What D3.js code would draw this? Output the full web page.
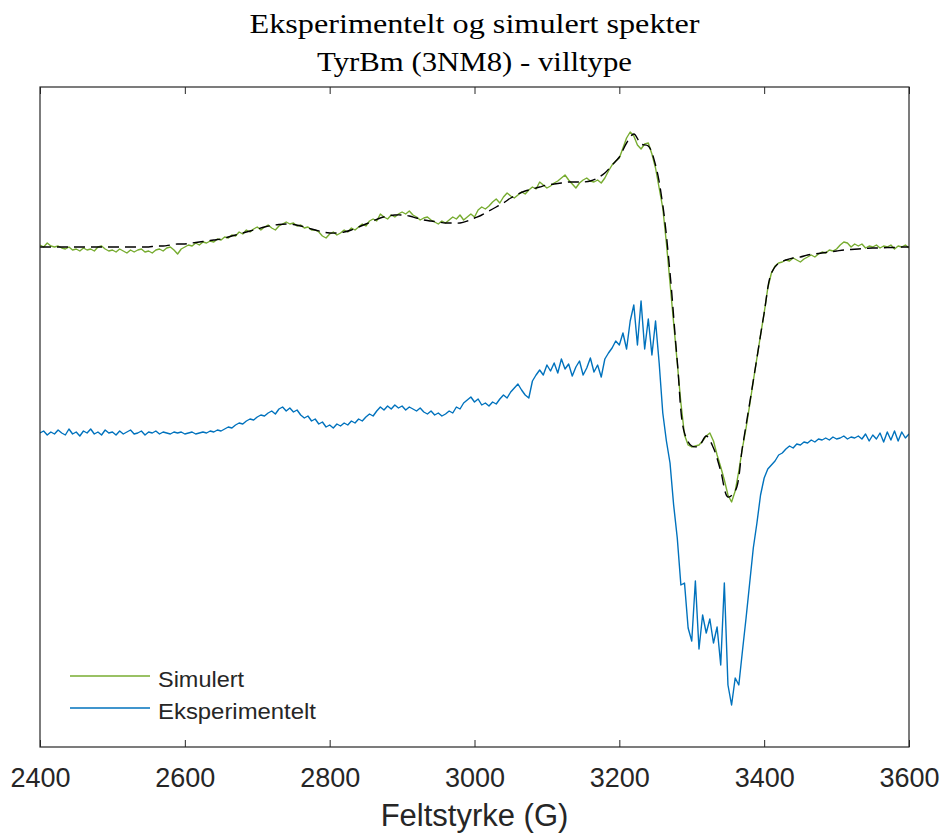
<!DOCTYPE html>
<html>
<head>
<meta charset="utf-8">
<script src="https://cdn.jsdelivr.net/npm/d3@7"></script>
<style>
  html, body { margin: 0; padding: 0; background: #fff; }
  svg { display: block; }
</style>
</head>
<body>
<script>
// Field axis (gauss), ticks and labels
const fieldStart = 2400, fieldEnd = 3600, fieldStep = 5, fitStep = 10;
const xTicks = [2400, 2600, 2800, 3000, 3200, 3400, 3600];
const xLabel = "Feltstyrke (G)";
const titleLines = ["Eksperimentelt og simulert spekter", "TyrBm (3NM8) - villtype"];
const seriesNames = ["Simulert", "Eksperimentelt"];

// Green trace, one value per 5 G (arbitrary intensity, offset upward)
const simulert = [
  188,186,190,187,186,187,185,184,186,183,184,182,185,183,184,182,186,187,184,182,
  183,181,184,182,180,183,181,183,184,181,182,180,183,184,182,185,186,183,179,184,
  186,188,187,190,188,191,190,192,191,194,193,196,195,198,197,201,199,203,201,204,
  206,203,206,208,205,203,207,209,211,209,210,207,208,205,206,203,203,201,197,195,
  199,201,198,200,203,201,205,203,206,209,207,212,214,212,219,216,214,218,216,219,
  221,219,222,218,216,213,215,216,213,211,209,212,210,213,216,214,218,213,216,219,
  216,223,226,224,227,231,234,230,236,240,237,235,238,241,239,243,246,244,251,248,
  245,247,250,252,255,258,253,249,245,250,253,255,252,251,253,250,255,262,268,272,
  275,285,295,301,297,288,284,289,290,279,265,245,225,190,150,110,70,30,-2,-12,
  -14,-13,-12,-8,-3,0,-8,-22,-34,-47,-62,-69,-58,-38,-15,5,28,52,75,98,
  120,145,160,167,170,171,173,172,175,173,171,174,176,178,176,179,181,180,183,182,
  184,188,191,190,186,189,187,189,185,187,186,188,185,187,186,188,184,187,186,188,
  185
];

// Blue trace, one value per 5 G
const eksperimentelt = [
  0,2,-2,1,-1,3,0,-2,4,-1,1,-3,2,0,4,-1,1,-2,3,0,
  1,-2,2,-1,1,3,-1,0,2,-2,1,0,2,-1,1,0,-1,1,0,1,
  -1,0,1,-1,0,1,0,2,1,3,2,4,6,5,8,10,9,12,14,13,
  16,18,17,20,22,19,24,26,22,25,21,23,18,15,17,12,14,9,11,6,
  8,5,9,7,10,8,12,10,14,12,16,19,17,22,26,23,27,24,28,25,
  27,23,26,24,22,25,21,19,22,18,20,17,19,22,20,26,24,30,33,36,
  31,34,28,30,27,31,29,34,38,35,41,45,49,43,38,35,52,58,63,58,
  68,62,70,60,74,64,69,57,66,72,58,65,75,61,68,56,74,80,85,92,
  88,100,84,112,128,88,132,84,114,78,112,70,20,-8,-30,-72,-105,-152,-150,-195,
  -208,-148,-216,-182,-200,-186,-210,-194,-232,-150,-252,-272,-245,-252,-218,-185,-150,-115,-90,-62,
  -45,-36,-32,-28,-22,-20,-16,-13,-15,-11,-12,-9,-10,-7,-9,-6,-7,-5,-7,-4,
  -6,-5,-3,-6,-4,-5,-3,-6,-1,-8,-2,-6,0,-9,1,-7,2,-8,1,-5,
  -1
];

// Smooth fitted spectrum (black dashed), one value per 10 G
const tilpasning = [
  186,186,186,186,186,186,186,186,186,186,
  186,186,186,186,186,186,187,187,188,189,
  189,190,191,192,193,194,196,198,200,202,
  204,206,207.5,208.5,209,208.5,207,205,203,201,
  200,200,201,203,206,209,212,215,217,218,
  218,217,215,213,212,211,210,210,210,212,
  215,218,222,226,230,235,239,242,244,246,
  248,249,250,251,251,251,252,255,260,268,
  276,290,299,289,287,268,228,160,72,0,
  -13,-13,-3,-15,-38,-64,-58,-14,30,75,
  120,160,170,173,175,176,178,179,180,181,
  182,183,183.5,184,184.5,185,185,185.5,185.5,186,
  186
];

const W = 943, H = 833;
const plot = { left: 40, right: 909, top: 87, bottom: 747 };
const axisColor = "#262626";
const colors = { simulert: "#77AC30", eksperimentelt: "#0072BD", fit: "#000000" };
const sansFont = "'Liberation Sans', Arial, Helvetica, sans-serif";
const serifFont = "'Liberation Serif', 'Times New Roman', serif";

const fieldGrid = d3.range(fieldStart, fieldEnd + 0.001, fieldStep);
const fitGrid = d3.range(fieldStart, fieldEnd + 0.001, fitStep);

const x = d3.scaleLinear().domain([fieldStart, fieldEnd]).range([plot.left, plot.right]);
const y = d3.scaleLinear().domain([-314, 346]).range([plot.bottom, plot.top]);

const svg = d3.select("body").append("svg").attr("width", W).attr("height", H);

svg.append("defs").append("clipPath").attr("id", "plot-clip")
  .append("rect")
  .attr("x", plot.left).attr("y", plot.top)
  .attr("width", plot.right - plot.left).attr("height", plot.bottom - plot.top);

const line = d3.line().x(d => x(d[0])).y(d => y(d[1]));
const smoothLine = d3.line().x(d => x(d[0])).y(d => y(d[1])).curve(d3.curveCatmullRom.alpha(0.5));

const traces = svg.append("g").attr("clip-path", "url(#plot-clip)");

traces.append("path")
  .datum(fieldGrid.map((f, i) => [f, simulert[i]]))
  .attr("fill", "none").attr("stroke", colors.simulert)
  .attr("stroke-width", 1.4).attr("stroke-linejoin", "round")
  .attr("d", line);

traces.append("path")
  .datum(fieldGrid.map((f, i) => [f, eksperimentelt[i]]))
  .attr("fill", "none").attr("stroke", colors.eksperimentelt)
  .attr("stroke-width", 1.4).attr("stroke-linejoin", "round")
  .attr("d", line);

traces.append("path")
  .datum(fitGrid.map((f, i) => [f, tilpasning[i]]))
  .attr("fill", "none").attr("stroke", colors.fit)
  .attr("stroke-width", 1.4).attr("stroke-dasharray", "11,6")
  .attr("d", smoothLine);

// Axes: labelled bottom axis, mirrored ticks on top, frame without y ticks
const bottomAxis = d3.axisBottom(x).tickValues(xTicks).tickSizeInner(-7).tickSizeOuter(0).tickPadding(21)
  .tickFormat(d3.format("d"));
const gb = svg.append("g").attr("transform", `translate(0,${plot.bottom})`).call(bottomAxis);
gb.select(".domain").remove();
gb.selectAll("line").attr("stroke", axisColor);
gb.selectAll("text").attr("fill", axisColor)
  .style("font-family", sansFont).style("font-size", "27px");

const topAxis = d3.axisTop(x).tickValues(xTicks).tickSizeInner(-7).tickSizeOuter(0).tickFormat("");
const gt = svg.append("g").attr("transform", `translate(0,${plot.top})`).call(topAxis);
gt.select(".domain").remove();
gt.selectAll("line").attr("stroke", axisColor);

svg.append("rect")
  .attr("x", plot.left).attr("y", plot.top)
  .attr("width", plot.right - plot.left).attr("height", plot.bottom - plot.top)
  .attr("fill", "none").attr("stroke", axisColor).attr("stroke-width", 1.2);

// Axis label
svg.append("text")
  .attr("x", (plot.left + plot.right) / 2).attr("y", 826)
  .attr("text-anchor", "middle").attr("fill", axisColor)
  .style("font-family", sansFont).style("font-size", "31px")
  .text(xLabel);

// Title (two centred lines, wide serif set)
const titleWidths = [450, 315];
svg.append("g").selectAll("text").data(titleLines).join("text")
  .attr("x", (plot.left + plot.right) / 2)
  .attr("y", (d, i) => 33 + i * 38)
  .attr("text-anchor", "middle").attr("fill", "#000")
  .attr("textLength", (d, i) => titleWidths[i]).attr("lengthAdjust", "spacingAndGlyphs")
  .style("font-family", serifFont).style("font-size", "27px")
  .text(d => d);

// Legend
const legend = svg.append("g");
const legendItems = [
  { name: seriesNames[0], color: colors.simulert, y: 676, width: 86 },
  { name: seriesNames[1], color: colors.eksperimentelt, y: 708, width: 158 }
];
legend.selectAll("line").data(legendItems).join("line")
  .attr("x1", 70).attr("x2", 150)
  .attr("y1", d => d.y).attr("y2", d => d.y)
  .attr("stroke", d => d.color).attr("stroke-width", 1.4);
legend.selectAll("text").data(legendItems).join("text")
  .attr("x", 158).attr("y", d => d.y + 11)
  .attr("fill", axisColor)
  .attr("textLength", d => d.width).attr("lengthAdjust", "spacingAndGlyphs")
  .style("font-family", sansFont).style("font-size", "22px")
  .text(d => d.name);
</script>
</body>
</html>
